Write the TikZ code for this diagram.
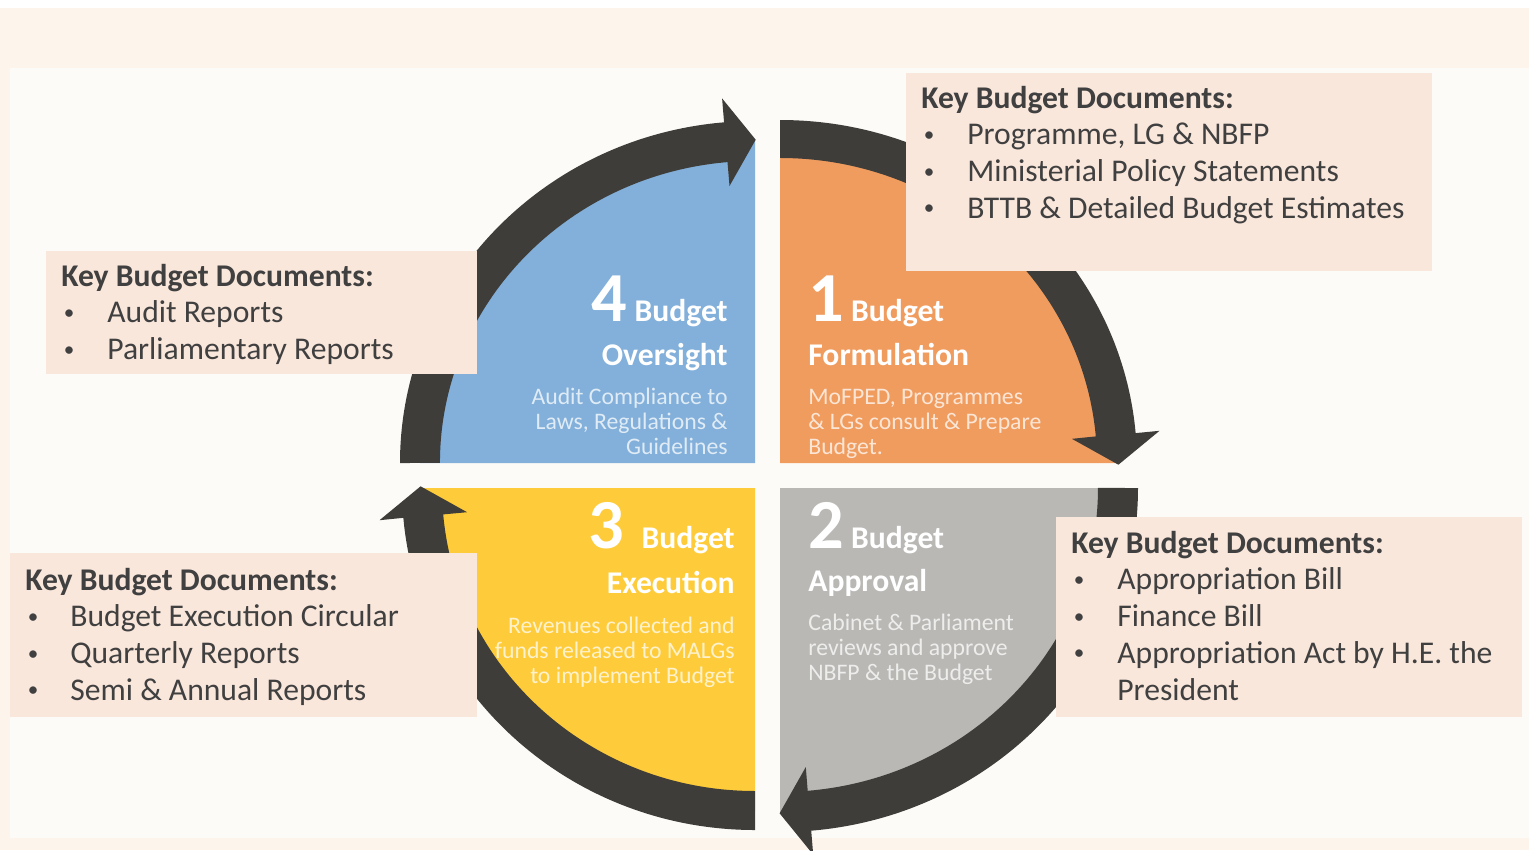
\documentclass[tikz,border=0pt]{standalone}
\usepackage{fontspec}
\setmainfont{Carlito}
\usepackage{xcolor}
\usepackage{tikz}

\definecolor{pagepeach}{HTML}{FDF4EC}
\definecolor{panelwhite}{HTML}{FDFBF8}
\definecolor{boxpeach}{HTML}{FAE7DC}
\definecolor{cycledark}{HTML}{3F3D39}
\definecolor{oversightblue}{HTML}{82B0DA}
\definecolor{formorange}{HTML}{F09C5F}
\definecolor{approvalgray}{HTML}{B9B8B5}
\definecolor{execyellow}{HTML}{FECC3A}
\definecolor{keytext}{HTML}{404040}

\tikzset{
  keybox/.style={fill=boxpeach},
  keylist/.style={inner sep=0pt, text=keytext, font=\fontsize{18}{21}\selectfont},
  stagehead/.style={inner sep=0pt, text=white, font=\bfseries\fontsize{18}{21}\selectfont},
  stagedesc/.style={inner sep=0pt, text=white, text opacity=0.75, font=\fontsize{13.5}{14.3}\selectfont},
}
\newcommand\stagedigit{\fontsize{40}{40}\selectfont}
\newcommand\keybullet{\hspace{1.5pt}\raisebox{0.12em}{\fontsize{12}{12}\selectfont\textbullet}}

\begin{document}
\begin{tikzpicture}[x=0.02cm, y=0.02cm]
\useasboundingbox (0,0) rectangle (1529,-850);
% page and panel
\fill[white] (0,0) rectangle (1529,-850);
\fill[pagepeach] (0,-8) rectangle (1529,-850);
\fill[panelwhite] (10,-68) rectangle (1529,-838);

% the four stages
\fill[oversightblue] (755,-463) -- (420,-463) arc[start angle=180, end angle=90, x radius=335, y radius=322] -- cycle;
\fill[formorange] (780,-463) -- (780,-139) arc[start angle=90, end angle=0, x radius=337, y radius=324] -- cycle;
\fill[approvalgray] (780,-488) -- (1118,-488) arc[start angle=0, end angle=-90, x radius=338, y radius=324] -- cycle;
\fill[execyellow] (755,-488) -- (755,-811) arc[start angle=-90, end angle=-180, x radius=333, y radius=323] -- cycle;

% cycle arrows, clockwise
\fill[cycledark] (400,-463) arc[start angle=180, end angle=95, x radius=355, y radius=342]
  -- (722.1,-98.4) -- (755.7,-139.7) -- (729.5,-186.0) -- (727.5,-162.1)
  arc[start angle=95, end angle=180, x radius=315, y radius=302] -- cycle;
\fill[cycledark] (780,-120) arc[start angle=90, end angle=5, x radius=357, y radius=343]
  -- (1159.5,-430.8) -- (1118.4,-464.7) -- (1071.9,-438.8) -- (1095.8,-436.4)
  arc[start angle=5, end angle=90, x radius=317, y radius=305] -- cycle;
\fill[cycledark] (1138,-488) arc[start angle=0, end angle=-85, x radius=358, y radius=344]
  -- (813.2,-854.6) -- (779.6,-813.3) -- (805.8,-767.0) -- (807.7,-790.8)
  arc[start angle=-85, end angle=0, x radius=318, y radius=304] -- cycle;
\fill[cycledark] (755,-830) arc[start angle=-90, end angle=-175, x radius=353, y radius=342]
  -- (379.5,-520.2) -- (420.6,-486.3) -- (467.1,-512.2) -- (443.2,-514.4)
  arc[start angle=-175, end angle=-90, x radius=313, y radius=303] -- cycle;

% stage labels
\node[stagehead, anchor=base east] (overhead) at (728,-321) {{\stagedigit 4} Budget};
\node[stagehead, anchor=base east] (overtitle) at (728,-365) {Oversight};
\node[stagedesc, anchor=base east] (overdesc) at (728,-404) {\begin{tabular}[t]{@{}r@{}}Audit Compliance to\\Laws, Regulations \&\\Guidelines\end{tabular}};

\node[stagehead, anchor=base west] (formhead) at (808,-321) {{\stagedigit 1} Budget};
\node[stagehead, anchor=base west] (formtitle) at (808,-365) {Formulation};
\node[stagedesc, anchor=base west] (formdesc) at (808,-404) {\begin{tabular}[t]{@{}l@{}}MoFPED, Programmes\\\& LGs consult \& Prepare\\Budget.\end{tabular}};

\node[stagehead, anchor=base west] (apprhead) at (808,-548) {{\stagedigit 2} Budget};
\node[stagehead, anchor=base west] (apprtitle) at (808,-591) {Approval};
\node[stagedesc, anchor=base west] (apprdesc) at (808,-630) {\begin{tabular}[t]{@{}l@{}}Cabinet \& Parliament\\reviews and approve\\NBFP \& the Budget\end{tabular}};

\node[stagehead, anchor=base east] (exechead) at (735,-548) {{\stagedigit 3}\hspace{6pt} Budget};
\node[stagehead, anchor=base east] (exectitle) at (735,-593) {Execution};
\node[stagedesc, anchor=base east] (execdesc) at (735,-633) {\begin{tabular}[t]{@{}r@{}}Revenues collected and\\funds released to MALGs\\to implement Budget\end{tabular}};

% key documents
\fill[keybox] (906,-73) rectangle (1432,-271);
\fill[keybox] (46,-251) rectangle (477,-374);
\fill[keybox] (10,-553) rectangle (477,-717);
\fill[keybox] (1056,-517) rectangle (1522,-717);

\node[keylist, anchor=base west] (formdocs) at (921,-108) {\begin{tabular}[t]{@{}p{0.92cm}@{}l@{}}
\multicolumn{2}{@{}l@{}}{\bfseries Key Budget Documents:}\\
\keybullet & Programme, LG \& NBFP\\
\keybullet & Ministerial Policy Statements\\
\keybullet & BTTB \& Detailed Budget Estimates
\end{tabular}};
\node[keylist, anchor=base west] (overdocs) at (61,-286) {\begin{tabular}[t]{@{}p{0.92cm}@{}l@{}}
\multicolumn{2}{@{}l@{}}{\bfseries Key Budget Documents:}\\
\keybullet & Audit Reports\\
\keybullet & Parliamentary Reports
\end{tabular}};
\node[keylist, anchor=base west] (execdocs) at (25,-590) {\begin{tabular}[t]{@{}p{0.9cm}@{}l@{}}
\multicolumn{2}{@{}l@{}}{\bfseries Key Budget Documents:}\\
\keybullet & Budget Execution Circular\\
\keybullet & Quarterly Reports\\
\keybullet & Semi \& Annual Reports
\end{tabular}};
\node[keylist, anchor=base west] (apprdocs) at (1071,-553) {\begin{tabular}[t]{@{}p{0.92cm}@{}l@{}}
\multicolumn{2}{@{}l@{}}{\bfseries Key Budget Documents:}\\
\keybullet & Appropriation Bill\\
\keybullet & Finance Bill\\
\keybullet & Appropriation Act by H.E. the\\
 & President
\end{tabular}};
\end{tikzpicture}
\end{document}
